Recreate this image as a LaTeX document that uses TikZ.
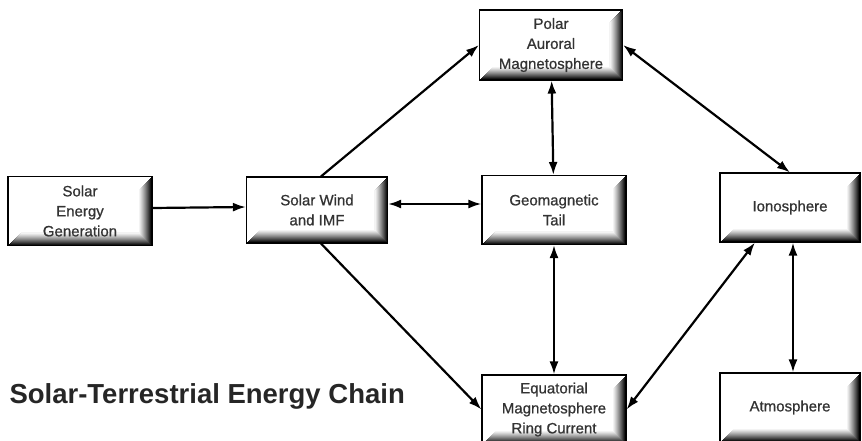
\documentclass[tikz,border=0pt]{standalone}
\usepackage{fontspec}
\setmainfont{Liberation Sans}
\newfontfamily\boxfont[FakeBold=0.8]{Liberation Sans}
\usetikzlibrary{arrows.meta}

\begin{document}
\begin{tikzpicture}[x=1pt, y=-1pt,
  box/.style={draw, line width=1.1pt, minimum width=144pt, minimum height=69pt,
              inner sep=0pt, font=\boxfont\fontsize{15}{20}\selectfont, align=center, text=black!80,
              path picture={
                \foreach \i in {0,...,12} {
                  \pgfmathsetmacro\lvl{100*(1-\i/13)^1.2}
                  \draw[line width=1.2pt, black!\lvl]
                    ([xshift=\i pt+0.5pt, yshift=\i pt+0.5pt]path picture bounding box.south west)
                    -- ([xshift=-\i pt-0.5pt, yshift=\i pt+0.5pt]path picture bounding box.south east)
                    -- ([xshift=-\i pt-0.5pt, yshift=-\i pt-0.5pt]path picture bounding box.north east);
                }
              }},
  arr/.style={-{Latex[length=13pt, width=9pt]}, line width=2.2pt},
  both/.style={{Latex[length=13pt, width=9pt]}-{Latex[length=13pt, width=9pt]}, line width=2.2pt}
]
\useasboundingbox (0,0) rectangle (862,441);
% boxes
\node[box] (seg) at (80,211) {Solar\\Energy\\Generation};
\node[box, minimum width=141pt, minimum height=66pt] (sw) at (317,210) {Solar Wind\\and IMF};
\node[box, minimum width=143pt, minimum height=70pt] (polar) at (551,45) {Polar\\Auroral\\Magnetosphere};
\node[box] (tail) at (554,210) {Geomagnetic\\Tail};
\node[box, minimum width=140pt] (iono) at (790,207.5) {Ionosphere};
\node[box] (equa) at (554,409.5) {Equatorial\\Magnetosphere\\Ring Current};
\node[box, minimum width=140pt] (atmo) at (790,407.5) {Atmosphere};
\node[anchor=west, font=\bfseries\fontsize{27.5}{32}\selectfont, text=black!85] (title) at (6,396)
  {Solar-Terrestrial Energy Chain};
% connectors
\draw[arr] ([yshift=3pt]seg.east) -- ([yshift=3pt]sw.west);
\draw[arr] ([xshift=4pt]sw.north) -- (polar.west);
\draw[arr] ([xshift=4pt]sw.south) -- (equa.west);
\draw[both] ([yshift=6pt]sw.east) -- ([yshift=6pt]tail.west);
\foreach \a/\b in {polar/tail, tail/equa}
  \draw[both] (\a) -- (\b);
\draw[both] ([xshift=3pt]iono.south) -- ([xshift=3pt]atmo.north);
\draw[both] (polar.east) -- (iono.north);
\draw[both] (equa.east) -- (iono.225);
\end{tikzpicture}
\end{document}
